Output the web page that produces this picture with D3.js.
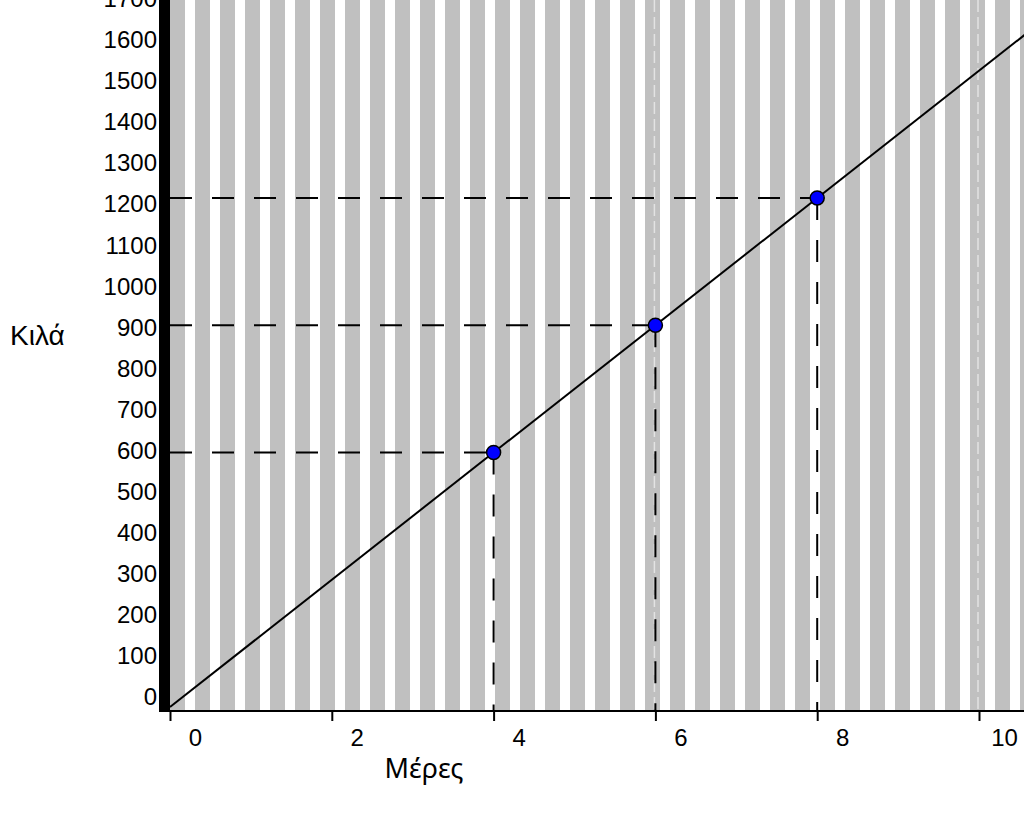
<!DOCTYPE html>
<html>
<head>
    <meta charset="utf-8">
    <script src="https://cdn.jsdelivr.net/npm/d3@7"></script>
    <style>
        body { margin: 0; background: #fff; }
        text { font-family: "Liberation Sans", Arial, sans-serif; }
    </style>
</head>
<body>
<div id="visDiv"></div>
<script>
    /* Data */
    var days = [4, 6, 8];
    var kilos = [600, 900, 1200];
    var lineDays = [0, 10.6];
    var lineKilos = [0, 1590];
    var xTicks = [0, 2, 4, 6, 8, 10];
    var yTicks = [0, 100, 200, 300, 400, 500, 600, 700, 800, 900, 1000, 1100, 1200, 1300, 1400, 1500, 1600, 1700];
    var gridDays = [4, 6, 8, 10];
    var xTitle = "Μέρες";
    var yTitle = "Κιλά";

    /* Layout */
    var width = 1024, height = 816;
    var left = 170, bottom = 711;

    var svg = d3.select("#visDiv")
        .append("svg")
        .attr("width", width)
        .attr("height", height);

    /* Scales */
    var x = d3.scaleLinear().domain([0, 10]).range([left, 979]);
    var y = d3.scaleLinear().domain([0, 1200]).range([707, 198]);
    // tick labels in the original sit on a slightly tighter spacing
    var yLab = d3.scaleLinear().domain([0, 1700]).range([697, -1]);

    /* Striped background */
    var pattern = svg.append("defs").append("pattern")
        .attr("id", "stripes")
        .attr("patternUnits", "userSpaceOnUse")
        .attr("x", left).attr("y", 0)
        .attr("width", 25).attr("height", 10);
    pattern.append("rect")
        .attr("width", 15).attr("height", 10)
        .attr("fill", "#c0c0c0");

    svg.append("rect")
        .attr("x", left).attr("y", 0)
        .attr("width", width - left).attr("height", bottom)
        .attr("fill", "url(#stripes)");

    // faint white grid lines
    svg.selectAll(".grid")
        .data(gridDays)
        .enter()
        .append("line")
        .attr("x1", function (d) { return x(d) - 1; })
        .attr("x2", function (d) { return x(d) - 1; })
        .attr("y1", 0).attr("y2", bottom)
        .attr("stroke", "#fff")
        .attr("stroke-opacity", 0.55)
        .attr("stroke-width", 1.5)
        .attr("stroke-dasharray", "12,5");

    /* Dashed guides */
    svg.selectAll(".hguide")
        .data(days)
        .enter()
        .append("line")
        .attr("x1", x(0))
        .attr("x2", function (d) { return x(d); })
        .attr("y1", function (d, i) { return y(kilos[i]); })
        .attr("y2", function (d, i) { return y(kilos[i]); })
        .attr("stroke", "#000")
        .attr("stroke-width", 2)
        .attr("stroke-dasharray", "22,20");

    svg.selectAll(".vguide")
        .data(days)
        .enter()
        .append("line")
        .attr("x1", function (d) { return x(d); })
        .attr("x2", function (d) { return x(d); })
        .attr("y1", function (d, i) { return y(kilos[i]); })
        .attr("y2", bottom)
        .attr("stroke", "#000")
        .attr("stroke-width", 2)
        .attr("stroke-dasharray", "22,20");

    /* Line */
    svg.append("path")
        .datum(lineDays)
        .attr("fill", "none")
        .attr("stroke", "#000")
        .attr("stroke-width", 2)
        .attr("d", d3.line()
            .x(function (d) { return x(d); })
            .y(function (d, i) { return y(lineKilos[i]); })
        );

    /* Axes */
    svg.append("rect")
        .attr("x", 159).attr("y", 0)
        .attr("width", 11).attr("height", bottom + 1)
        .attr("fill", "#000");

    svg.append("line")
        .attr("x1", 159).attr("x2", width)
        .attr("y1", bottom).attr("y2", bottom)
        .attr("stroke", "#000")
        .attr("stroke-width", 2);

    var xAxis = d3.axisBottom(x).tickValues(xTicks).tickSize(10).tickPadding(8);
    var gx = svg.append("g")
        .attr("transform", "translate(0," + bottom + ")")
        .call(xAxis);
    gx.select(".domain").remove();
    gx.selectAll(".tick line").attr("stroke", "#000").attr("stroke-width", 2);
    gx.selectAll(".tick text")
        .attr("font-size", 24)
        .attr("font-family", "Liberation Sans, Arial, sans-serif")
        .attr("fill", "#000")
        .attr("dx", 25);

    var yAxis = d3.axisLeft(yLab).tickValues(yTicks).tickFormat(d3.format("d"))
        .tickSize(0).tickPadding(13);
    var gy = svg.append("g")
        .attr("transform", "translate(" + left + ",0)")
        .call(yAxis);
    gy.select(".domain").remove();
    gy.selectAll(".tick text")
        .attr("font-size", 24)
        .attr("font-family", "Liberation Sans, Arial, sans-serif")
        .attr("fill", "#000");

    /* Points */
    svg.selectAll(".pt")
        .data(days)
        .enter()
        .append("circle")
        .attr("cx", function (d) { return x(d); })
        .attr("cy", function (d, i) { return y(kilos[i]); })
        .attr("r", 7)
        .attr("fill", "#0000ff")
        .attr("stroke", "#000")
        .attr("stroke-width", 1.5);

    /* Titles */
    svg.append("text")
        .attr("x", 10).attr("y", 345)
        .attr("font-size", 28)
        .text(yTitle);

    svg.append("text")
        .attr("x", 424).attr("y", 778)
        .attr("text-anchor", "middle")
        .attr("font-size", 27)
        .style("font-family", "'Noto Sans', sans-serif")
        .text(xTitle);
</script>
</body>
</html>
